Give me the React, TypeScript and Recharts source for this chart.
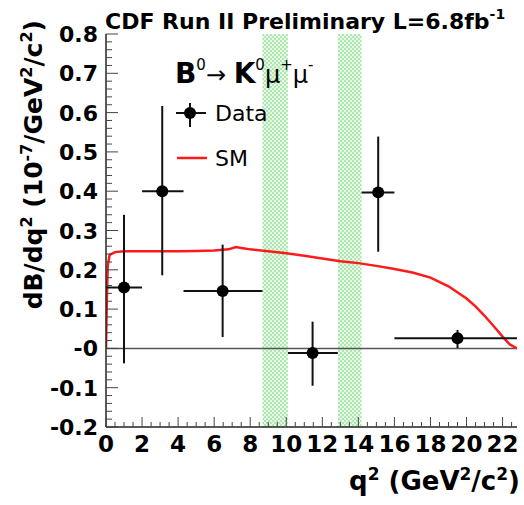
import {
  ComposedChart,
  XAxis,
  YAxis,
  Line,
  Scatter,
  ErrorBar,
  ReferenceArea,
  ReferenceLine,
} from "recharts"

// measured points, CDF B0 -> K0 mu mu
const q2Center = [1.0, 3.12, 6.47, 11.46, 15.1, 19.5]
const q2Low = [0, 2, 4.3, 10.09, 14.18, 16]
const q2High = [2, 4.3, 8.68, 12.86, 16, 22.8]
const dBdq2 = [0.155, 0.4, 0.146, -0.012, 0.397, 0.026]
const errDown = [0.193, 0.214, 0.117, 0.083, 0.151, 0.025]
const errUp = [0.185, 0.217, 0.118, 0.08, 0.142, 0.021]

// SM prediction
const smQ2 = [0, 0.05, 0.1, 0.2, 0.5, 1, 2, 3, 4, 5, 6, 6.8, 7.2, 7.6, 8, 9, 10, 11, 12, 13, 14, 15, 16, 17, 18, 19, 20, 20.5, 21, 21.5, 22, 22.4, 22.8]
const smRate = [0, 0.13, 0.21, 0.238, 0.245, 0.247, 0.247, 0.247, 0.247, 0.248, 0.249, 0.252, 0.258, 0.255, 0.252, 0.247, 0.242, 0.236, 0.229, 0.222, 0.217, 0.21, 0.202, 0.193, 0.18, 0.158, 0.127, 0.107, 0.083, 0.057, 0.03, 0.01, 0]

// charmonium veto regions
const vetoLow = [8.68, 12.86]
const vetoHigh = [10.09, 14.18]

const xMajor = [0, 2, 4, 6, 8, 10, 12, 14, 16, 18, 20, 22]
const yMajor = [-0.2, -0.1, 0, 0.1, 0.2, 0.3, 0.4, 0.5, 0.6, 0.7, 0.8]
const yLabels = ["-0.2", "-0.1", "-0", "0.1", "0.2", "0.3", "0.4", "0.5", "0.6", "0.7", "0.8"]

const xTicks = Array.from({ length: 46 }, (_, i) => i * 0.5)
const yTicks = Array.from({ length: 51 }, (_, i) => Math.round((-0.2 + i * 0.02) * 100) / 100)

const points = q2Center.map((x, i) => ({
  x,
  y: dBdq2[i],
  ex: [x - q2Low[i], q2High[i] - x],
  ey: [errDown[i], errUp[i]],
}))
const smData = smQ2.map((x, i) => ({ x, y: smRate[i] }))

const FONT = "'DejaVu Sans', Arial, sans-serif"

function XTick(props: any) {
  const { x, y, payload } = props
  const v = payload.value
  const major = xMajor.some((m) => Math.abs(m - v) < 1e-6)
  return (
    <g>
      <line x1={x} x2={x} y1={y} y2={y - (major ? 10 : 5)} stroke="#444" strokeWidth={1} />
      {major && (
        <text x={x} y={y + 25} textAnchor="middle" fontFamily={FONT} fontWeight="bold" fontSize={23} fill="#000">
          {v}
        </text>
      )}
    </g>
  )
}

function YTick(props: any) {
  const { x, y, payload } = props
  const v = payload.value
  const idx = yMajor.findIndex((m) => Math.abs(m - v) < 1e-6)
  const major = idx >= 0
  return (
    <g>
      <line x1={x} x2={x + (major ? 12 : 6)} y1={y} y2={y} stroke="#444" strokeWidth={1} />
      {major && (
        <text x={x - 8} y={y + 8} textAnchor="end" fontFamily={FONT} fontWeight="bold" fontSize={22} fill="#000">
          {yLabels[idx]}
        </text>
      )}
    </g>
  )
}

function Dot(props: any) {
  return <circle cx={props.cx} cy={props.cy} r={6} fill="#000" />
}

export default function App() {
  return (
    <div style={{ position: "absolute", left: 0, top: 0, width: 524, height: 505, background: "#fff" }}>
      <ComposedChart width={524} height={505} margin={{ top: 34, right: 7, left: 0, bottom: 0 }}>
        <defs>
          <pattern id="veto" width="4" height="4" patternUnits="userSpaceOnUse">
            <rect width="4" height="4" fill="#e6f8e6" />
            <rect width="2" height="2" fill="#b0e6b0" />
            <rect x="2" y="2" width="2" height="2" fill="#b0e6b0" />
          </pattern>
        </defs>
        <XAxis
          type="number"
          dataKey="x"
          domain={[0, 22.8]}
          allowDataOverflow
          ticks={xTicks}
          interval={0}
          height={78}
          tickSize={0}
          tickMargin={0}
          tickLine={false}
          tick={<XTick />}
          axisLine={{ stroke: "#222", strokeWidth: 1.5 }}
        />
        <XAxis
          xAxisId="top"
          orientation="top"
          type="number"
          domain={[0, 22.8]}
          height={0}
          tick={false}
          tickLine={false}
          axisLine={{ stroke: "#222", strokeWidth: 1.5 }}
        />
        <YAxis
          type="number"
          dataKey="y"
          domain={[-0.2, 0.8]}
          allowDataOverflow
          ticks={yTicks}
          interval={0}
          width={106}
          tickSize={0}
          tickMargin={0}
          tickLine={false}
          tick={<YTick />}
          axisLine={{ stroke: "#222", strokeWidth: 1.5 }}
        />
        <YAxis
          yAxisId="right"
          orientation="right"
          type="number"
          domain={[-0.2, 0.8]}
          width={0}
          tick={false}
          tickLine={false}
          axisLine={{ stroke: "#222", strokeWidth: 1.5 }}
        />
        {vetoLow.map((lo, i) => (
          <ReferenceArea key={i} x1={lo} x2={vetoHigh[i]} y1={-0.2} y2={0.8} fill="url(#veto)" fillOpacity={1} stroke="none" />
        ))}
        <ReferenceLine y={0} stroke="#555" strokeWidth={1.5} />
        <Line
          data={smData}
          dataKey="y"
          type="linear"
          stroke="#ff1a1a"
          strokeWidth={2.5}
          dot={false}
          isAnimationActive={false}
        />
        <Scatter data={points} dataKey="y" shape={<Dot />} isAnimationActive={false}>
          <ErrorBar dataKey="ey" direction="y" width={0} stroke="#111" strokeWidth={2} />
          <ErrorBar dataKey="ex" direction="x" width={0} stroke="#111" strokeWidth={2} />
        </Scatter>
      </ComposedChart>
      <svg width={524} height={505} style={{ position: "absolute", left: 0, top: 0, pointerEvents: "none" }}>
        <text x={105} y={29} fontFamily={FONT} fontWeight="bold" fontSize={22} fill="#000">
          CDF Run II Preliminary L=6.8fb
          <tspan fontSize={14} dy={-10}>-1</tspan>
        </text>
        <text x={175} y={83} fontFamily={FONT} fill="#000">
          <tspan fontWeight="bold" fontSize={28}>B</tspan>
          <tspan fontSize={15} dy={-13}>0</tspan>
          <tspan fontSize={24} dy={13}>→ </tspan>
          <tspan fontWeight="bold" fontSize={28}>K</tspan>
          <tspan fontSize={15} dy={-13}>0</tspan>
          <tspan fontSize={24} dy={13}>μ</tspan>
          <tspan fontSize={15} dy={-13}>+</tspan>
          <tspan fontSize={24} dy={13}>μ</tspan>
          <tspan fontSize={15} dy={-13}>-</tspan>
        </text>
        {/* legend */}
        <line x1={176} x2={206} y1={113} y2={113} stroke="#111" strokeWidth={2} />
        <line x1={190} x2={190} y1={103} y2={127} stroke="#111" strokeWidth={2} />
        <circle cx={190} cy={113} r={6} fill="#000" />
        <text x={215} y={121} fontFamily={FONT} fontSize={22} fill="#000">Data</text>
        <line x1={177} x2={207} y1={158} y2={158} stroke="#ff1a1a" strokeWidth={2.5} />
        <text x={215} y={166} fontFamily={FONT} fontSize={22} fill="#000">SM</text>
        {/* axis titles */}
        <text
          transform="translate(42,20) rotate(-90)"
          textAnchor="end"
          fontFamily={FONT}
          fontWeight="bold"
          fontSize={25}
          fill="#000"
        >
          dB/dq<tspan fontSize={16} dy={-10}>2</tspan>
          <tspan dy={10}> (10</tspan>
          <tspan fontSize={16} dy={-10}>-7</tspan>
          <tspan dy={10}>/GeV</tspan>
          <tspan fontSize={16} dy={-10}>2</tspan>
          <tspan dy={10}>/c</tspan>
          <tspan fontSize={16} dy={-10}>2</tspan>
          <tspan dy={10}>)</tspan>
        </text>
        <text x={520} y={490} textAnchor="end" fontFamily={FONT} fontWeight="bold" fontSize={26} fill="#000">
          q<tspan fontSize={17} dy={-10}>2</tspan>
          <tspan dy={10}> (GeV</tspan>
          <tspan fontSize={17} dy={-10}>2</tspan>
          <tspan dy={10}>/c</tspan>
          <tspan fontSize={17} dy={-10}>2</tspan>
          <tspan dy={10}>)</tspan>
        </text>
      </svg>
    </div>
  )
}
